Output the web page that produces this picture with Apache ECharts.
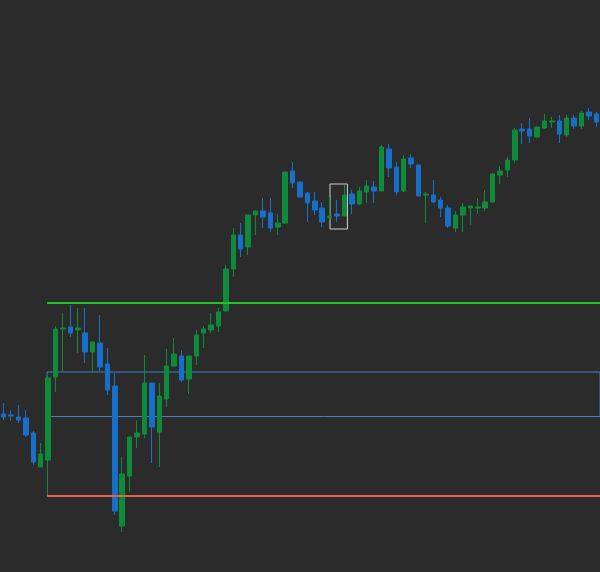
<!DOCTYPE html>
<html>
<head>
<meta charset="utf-8">
<script src="https://cdn.jsdelivr.net/npm/echarts@6/dist/echarts.min.js"></script>
<style>
html,body{margin:0;padding:0;background:#2b2b2b;}
#chart{width:600px;height:572px;}
</style>
</head>
<body>
<div id="chart"></div>
<script>
// Candles: open, close, low, high
const opens  = [158,157,155,154,139,105,112,195,243,245,242,239,220,229,208,186,46,96,135,138,189,140,173,206,216,193,216,239,242,246,261,303,337,325,357,361,359,345,349,401,390,379,371,364,354,358,356,378,368,380,385,381,423,405,381,414,407,377,377,372,364,344,357,364,364,364,370,397,402,412,443,443,435,444,450,451,437,454,446,460,458];
const closes = [155,156,152,137,110,118,194,243,244,239,244,220,230,205,182,61,98,135,139,189,145,176,206,218,192,216,237,243,247,260,303,337,323,357,361,355,344,349,400,389,375,369,362,350,356,356,377,368,381,386,381,425,404,380,413,408,376,378,370,364,346,357,365,366,365,370,398,401,412,442,441,436,445,451,451,438,454,446,459,456,450];
const lows   = [152,151,149,135,107,105,77,180,200,235,219,209,199,201,177,57,40,80,124,134,109,105,165,206,190,178,207,224,239,240,261,295,315,317,337,344,340,337,349,384,375,350,357,345,352,350,356,358,367,369,369,381,395,377,380,404,376,349,369,355,344,340,340,347,358,361,370,388,395,409,428,429,434,443,444,429,435,443,443,452,445];
const highs  = [169,162,167,162,141,129,196,246,259,267,264,264,230,257,224,199,115,135,152,217,189,189,223,234,222,216,242,246,259,264,307,344,349,357,361,374,374,358,400,410,390,380,380,370,375,372,387,382,385,392,391,427,428,410,417,418,407,380,392,375,367,361,369,366,374,382,399,406,415,444,449,454,445,458,455,457,457,457,461,464,460];
const categories = opens.map((_, i) => String(i + 1));

// Annotation levels
const resistanceLevel = 269;
const supportLevel = 76;
const rangeTop = 200;
const rangeBottom = 155.5;
const levelsStart = 5.85;
const highlightFrom = 44.05;
const highlightTo = 46.4;
const highlightTop = 388;
const highlightBottom = 343;

const candleData = opens.map((o, i) => [o, closes[i], lows[i], highs[i]]);
const lastIdx = categories.length - 0.5;

const chart = echarts.init(document.getElementById('chart'));
chart.setOption({
  backgroundColor: '#2b2b2b',
  animation: false,
  grid: {left: 0, right: 0, top: 0, bottom: 0},
  xAxis: [
    {type: 'category', data: categories, show: false, boundaryGap: true},
    {type: 'value', min: -0.5, max: lastIdx, show: false}
  ],
  yAxis: {type: 'value', min: 0, max: 572, show: false, splitLine: {show: false}},
  series: [
    {
      type: 'candlestick',
      data: candleData,
      barWidth: 5,
      itemStyle: {
        color: '#0e8a3b',
        color0: '#176fca',
        borderColor: '#0e8a3b',
        borderColor0: '#176fca',
        borderWidth: 1
      },
      z: 2
    },
    {
      type: 'line',
      xAxisIndex: 1,
      data: [[levelsStart, resistanceLevel], [lastIdx, resistanceLevel]],
      symbol: 'none',
      lineStyle: {opacity: 0},
      silent: true,
      z: 5,
      markLine: {
        silent: true,
        symbol: 'none',
        label: {show: false},
        data: [
          [{coord: [levelsStart, resistanceLevel], lineStyle: {color: '#22c425', width: 2, type: 'solid'}},
           {coord: [lastIdx, resistanceLevel]}],
          [{coord: [levelsStart, supportLevel], lineStyle: {color: '#e2604e', width: 2, type: 'solid'}},
           {coord: [lastIdx, supportLevel]}]
        ]
      },
      markArea: {
        silent: true,
        label: {show: false},
        data: [
          [{coord: [levelsStart, rangeTop], itemStyle: {color: 'rgba(0,0,0,0)', borderColor: '#3f82c6', borderWidth: 1}},
           {coord: [lastIdx + 1, rangeBottom]}],
          [{coord: [highlightFrom, highlightTop], itemStyle: {color: 'rgba(0,0,0,0)', borderColor: '#d0d0d0', borderWidth: 1}},
           {coord: [highlightTo, highlightBottom]}]
        ]
      }
    }
  ]
});
</script>
</body>
</html>
